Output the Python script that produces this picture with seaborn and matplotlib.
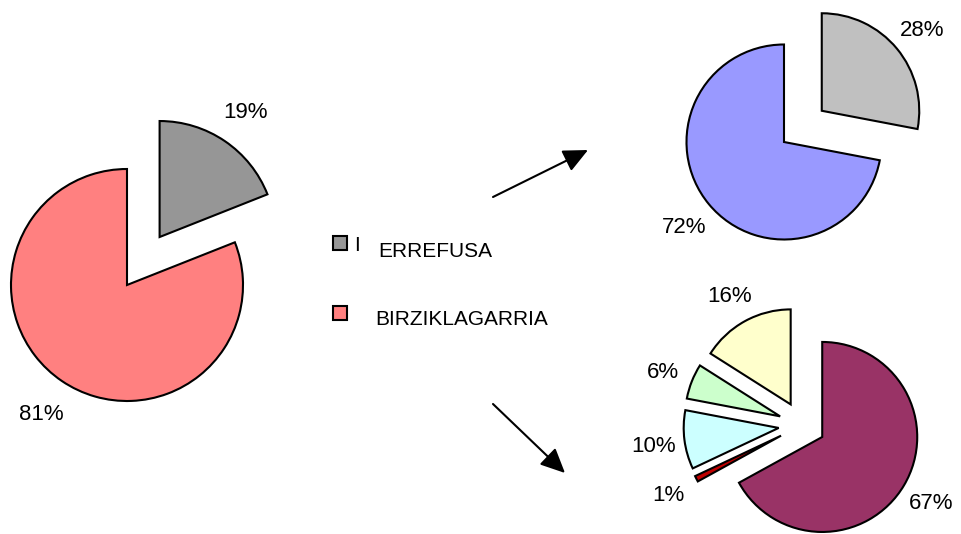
import matplotlib
matplotlib.use("Agg")
import matplotlib.pyplot as plt
import seaborn as sns
from matplotlib.patches import FancyArrowPatch, Rectangle

# ---- data ----
categories = ["ERREFUSA", "BIRZIKLAGARRIA"]
total_values = [19, 81]
total_colors = ["#969696", "#FF8080"]
refuse_values = [28, 72]
refuse_colors = ["#C0C0C0", "#9999FF"]
recyc_values = [67, 1, 10, 6, 16]
recyc_colors = ["#993366", "#C00000", "#CCFFFF", "#CCFFCC", "#FFFFCC"]

sns.set_theme(style="white")
plt.rcParams['font.family'] = ['Liberation Sans', 'DejaVu Sans']
plt.rcParams['text.color'] = 'black'

W, H = 962, 534
fig = plt.figure(figsize=(W / 100, H / 100), dpi=100)
ax = fig.add_axes([0, 0, 1, 1])

wp = dict(edgecolor='black', linewidth=1.5)
tp = dict(fontsize=16, ha='center', va='center_baseline', color='black')


def lab(v):
    return [f"{x}%" for x in v]


# explode values are in data (pixel) units in matplotlib's pie
w1, _ = ax.pie(total_values, explode=[58, 0], colors=total_colors,
               labels=lab(total_values), startangle=90, counterclock=False,
               center=(127, H - 285), radius=116, labeldistance=1.32,
               wedgeprops=wp, textprops=tp, frame=True)

ax.pie(refuse_values, explode=[49, 0], colors=refuse_colors,
       labels=lab(refuse_values), startangle=90, counterclock=False,
       center=(784, H - 142), radius=97.5, labeldistance=1.33,
       wedgeprops=wp, textprops=tp, frame=True)

ax.pie(recyc_values, explode=[23.5] * len(recyc_values), colors=recyc_colors,
       labels=lab(recyc_values), startangle=90, counterclock=False,
       center=(802, H - 425), radius=95, labeldistance=1.33,
       wedgeprops=wp, textprops=tp, frame=True)

ax.set_xlim(0, W)
ax.set_ylim(0, H)
ax.set_aspect('equal')
ax.axis('off')

# legend (squares + labels)
leg_sq = [(333, 236), (333, 306)]
leg_txt = [(378, 257), (375, 325)]
for wedge, name, (sx, sy), (tx, ty) in zip(w1, categories, leg_sq, leg_txt):
    ax.add_patch(Rectangle((sx, H - sy - 14), 14, 14,
                           facecolor=wedge.get_facecolor(),
                           edgecolor='black', linewidth=1.5))
    ax.text(tx, H - ty, name, fontsize=15, ha='left', va='baseline',
            color='black')

ax.text(354, H - 251, "I", fontsize=15, ha='left', va='baseline',
        color='black')

for (x0, y0), (x1, y1) in [((493, 197), (588, 150)), ((493, 404), (565, 473))]:
    arr = FancyArrowPatch((x0, H - y0), (x1, H - y1),
                          arrowstyle='-|>,head_length=0.75,head_width=0.35',
                          mutation_scale=20, color='black', lw=1.5,
                          shrinkA=0, shrinkB=0)
    ax.add_patch(arr)

fig.savefig('out.png', dpi=100)
